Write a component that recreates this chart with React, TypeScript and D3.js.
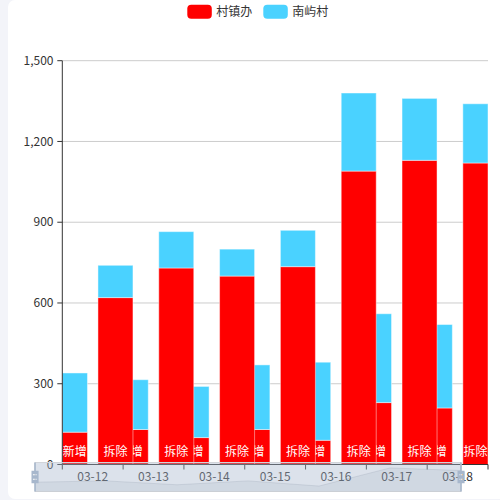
import React from 'react';
import * as d3 from 'd3';

const categories = ['03-12', '03-13', '03-14', '03-15', '03-16', '03-17', '03-18'];
const stackNames = ['新增', '拆除'];
const seriesNames = ['村镇办', '南屿村'];
const cunzhenAdd = [120, 130, 100, 130, 90, 230, 210];
const nanyuAdd = [220, 185, 190, 240, 290, 330, 310];
const cunzhenRemove = [620, 730, 700, 735, 1090, 1130, 1120];
const nanyuRemove = [120, 135, 100, 135, 290, 230, 220];
const yTicks = [0, 300, 600, 900, 1200, 1500];
const colors = ['#ff0000', '#4ad2ff'];

const FONT = '"Noto Sans CJK SC", "Noto Sans", sans-serif';
const HANDLE =
  'M8.2,13.6V3.9H6.3v9.7H3.1v14.9h3.3v9.7h1.8v-9.7h3.3V13.6H8.2z M9.7,24.4H4.8v-1.4h4.9V24.4z M9.7,19.1H4.8v-1.4h4.9V19.1z';

export default function App() {
  const W = 500, H = 500;
  const gl = 62.3, gr = 488, gt = 60.7, gb = 464.5;
  const x = d3.scaleBand<string>().domain(categories).range([gl, gr]).paddingInner(0).paddingOuter(0);
  const y = d3.scaleLinear().domain([0, 1500]).range([gb, gt]);
  const bw = x.bandwidth();
  const barW = 35;
  const off = (barW + barW * 0.3) / 2;
  const fmt = d3.format(',');

  const series = [
    { name: seriesNames[0], stack: 0, data: cunzhenAdd, base: cunzhenAdd.map(() => 0), color: colors[0], label: true },
    { name: seriesNames[1], stack: 0, data: nanyuAdd, base: cunzhenAdd, color: colors[1], label: false },
    { name: seriesNames[0], stack: 1, data: cunzhenRemove, base: cunzhenRemove.map(() => 0), color: colors[0], label: true },
    { name: seriesNames[1], stack: 1, data: nanyuRemove, base: cunzhenRemove, color: colors[1], label: false },
  ];

  // slider
  const sx0 = 35, sx1 = 461, sy0 = 462.5, sy1 = 491.5;
  const sh = sy1 - sy0;
  const ext = d3.extent(cunzhenAdd) as [number, number];
  const o = (ext[1] - ext[0]) * 0.3;
  const shadowY = d3.scaleLinear().domain([ext[0] - o, ext[1] + o]).range([sy1, sy0]);
  const shadowX = d3.scaleLinear().domain([0, categories.length - 1]).range([sx0, sx1]);
  const pts: [number, number][] = cunzhenAdd.map((v, i) => [shadowX(i), shadowY(v)]);
  const areaPath = d3.area<[number, number]>().x((d) => d[0]).y0(sy1).y1((d) => d[1])(pts) || '';
  const linePath = d3.line<[number, number]>().x((d) => d[0]).y((d) => d[1])(pts) || '';
  const hs = sh / 34.3;

  return (
    <div style={{ position: 'absolute', left: 0, top: 0, width: W, height: H }}>
      <svg width={W} height={H} style={{ display: 'block', fontFamily: FONT }}>
        <rect x={0} y={0} width={W} height={H} fill="#f3f4f9" />
        <rect x={8} y={0} width={W + 20} height={499} rx={7} fill="#ffffff" />

        {/* legend */}
        {seriesNames.map((n, i) => {
          const lx = i === 0 ? 187.3 : 263.3;
          return (
            <g key={n}>
              <rect x={lx} y={4.7} width={24.5} height={14} rx={4} fill={colors[i]} />
              <text x={lx + 29} y={11.7} dy="0.35em" fontSize={12} fill="#333">{n}</text>
            </g>
          );
        })}

        {/* gridlines */}
        {yTicks.map((t) =>
          t === 0 ? null : (
            <line key={'g' + t} x1={gl} x2={gr} y1={y(t)} y2={y(t)} stroke="#ccc" strokeWidth={1} />
          )
        )}

        {/* bars */}
        {series.map((s, si) => (
          <g key={'s' + si}>
            {categories.map((c, i) => {
              const cx = (x(c) as number) + bw / 2 + (s.stack === 0 ? -off : off);
              const l = Math.max(cx - barW / 2, gl);
              const r = Math.min(cx + barW / 2, gr);
              if (r <= l) return null;
              const y0 = y(s.base[i]);
              const y1 = y(s.base[i] + s.data[i]);
              return (
                <rect key={c} x={l} y={y1} width={r - l} height={y0 - y1} fill={s.color}
                  stroke="rgba(255,255,255,0.45)" strokeWidth={1} />
              );
            })}
            {s.label &&
              categories.map((c, i) => {
                const cx = (x(c) as number) + bw / 2 + (s.stack === 0 ? -off : off);
                const l = Math.max(cx - barW / 2, gl);
                const r = Math.min(cx + barW / 2, gr);
                if (r <= l) return null;
                return (
                  <text key={'l' + c} x={(l + r) / 2} y={456} textAnchor="middle" fontSize={12} fill="#fff">
                    {stackNames[s.stack]}
                  </text>
                );
              })}
          </g>
        ))}

        {/* y axis */}
        <line x1={gl} x2={gl} y1={gt} y2={gb} stroke="#333" strokeWidth={1} />
        {yTicks.map((t) => (
          <g key={'y' + t}>
            <line x1={gl - 5} x2={gl} y1={y(t)} y2={y(t)} stroke="#333" strokeWidth={1} />
            <text x={53.5} y={y(t)} dy="0.35em" textAnchor="end" fontSize={12} fill="#333">{fmt(t)}</text>
          </g>
        ))}

        {/* x axis */}
        <line x1={gl} x2={gr} y1={gb} y2={gb} stroke="#333" strokeWidth={1} />
        {categories.map((c, i) => (
          <g key={'x' + c}>
            <line x1={(x(c) as number)} x2={(x(c) as number)} y1={gb} y2={gb + 5} stroke="#333" strokeWidth={1} />
            {i === categories.length - 1 && (
              <line x1={gr} x2={gr} y1={gb} y2={gb + 5} stroke="#333" strokeWidth={1} />
            )}
            <text x={(x(c) as number) + bw / 2} y={477} dy="0.35em" textAnchor="middle" fontSize={12} fill="#333">{c}</text>
          </g>
        ))}

        {/* dataZoom slider */}
        <rect x={sx0} y={sy0} width={sx1 - sx0} height={sh} fill="none" stroke="#ddd" strokeWidth={1} />
        <path d={areaPath} fill="rgba(47,69,84,0.09)" />
        <path d={linePath} fill="none" stroke="rgba(47,69,84,0.3)" strokeWidth={0.5} />
        <rect x={sx0} y={sy0} width={sx1 - sx0} height={sh} fill="rgba(167,183,204,0.4)" />
        {[sx0, sx1].map((hx, i) => (
          <path key={'h' + i} d={HANDLE} fill="#a7b7cc" fillRule="evenodd"
            transform={`translate(${hx},${(sy0 + sy1) / 2}) scale(${hs}) translate(-7.25,-21.05)`} />
        ))}
      </svg>
    </div>
  );
}
